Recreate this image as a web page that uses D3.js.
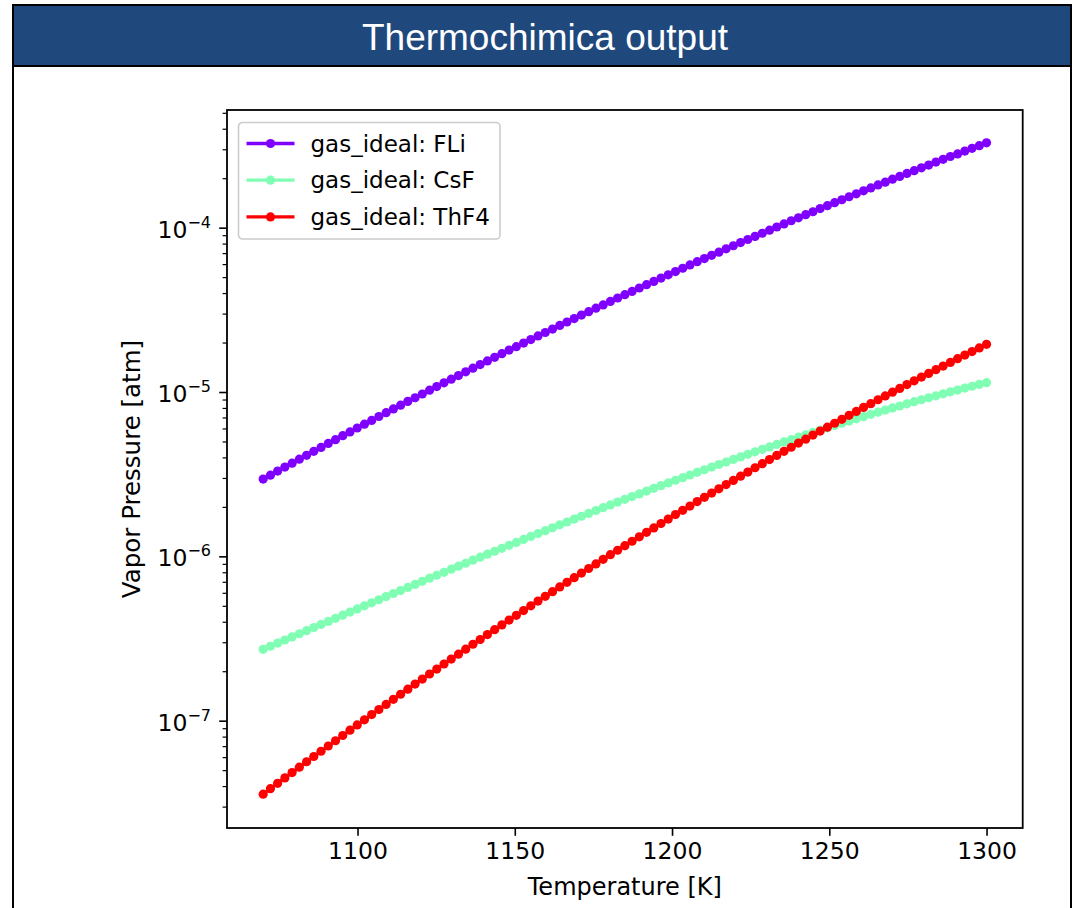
<!DOCTYPE html>
<html lang="en">
<head>
    <meta charset="UTF-8">
    <title>Thermochimica output</title>
    <script src="https://d3js.org/d3.v7.min.js"></script>
    <style>
        body { margin: 0; background: #fff; }
        svg { display: block; }
        .axis text { font-family: "DejaVu Sans", sans-serif; font-size: 23.5px; fill: #000; }
    </style>
</head>
<body>
    <div id="chart"></div>
    <script>
        // temperatures [K]
        const temperatures = [
            1070, 1072.3, 1074.6, 1076.9, 1079.2, 1081.5, 1083.8, 1086.1, 1088.4, 1090.7,
            1093, 1095.3, 1097.6, 1099.9, 1102.2, 1104.5, 1106.8, 1109.1, 1111.4, 1113.7,
            1116, 1118.3, 1120.6, 1122.9, 1125.2, 1127.5, 1129.8, 1132.1, 1134.4, 1136.7,
            1139, 1141.3, 1143.6, 1145.9, 1148.2, 1150.5, 1152.8, 1155.1, 1157.4, 1159.7,
            1162, 1164.3, 1166.6, 1168.9, 1171.2, 1173.5, 1175.8, 1178.1, 1180.4, 1182.7,
            1185, 1187.3, 1189.6, 1191.9, 1194.2, 1196.5, 1198.8, 1201.1, 1203.4, 1205.7,
            1208, 1210.3, 1212.6, 1214.9, 1217.2, 1219.5, 1221.8, 1224.1, 1226.4, 1228.7,
            1231, 1233.3, 1235.6, 1237.9, 1240.2, 1242.5, 1244.8, 1247.1, 1249.4, 1251.7,
            1254, 1256.3, 1258.6, 1260.9, 1263.2, 1265.5, 1267.8, 1270.1, 1272.4, 1274.7,
            1277, 1279.3, 1281.6, 1283.9, 1286.2, 1288.5, 1290.8, 1293.1, 1295.4, 1297.7,
            1300
        ];

        // vapour pressures, stored as log10(p / atm)
        const fliLogP = [
            -5.530, -5.506, -5.481, -5.457, -5.433, -5.409, -5.385, -5.361, -5.337, -5.313,
            -5.290, -5.266, -5.243, -5.219, -5.196, -5.173, -5.149, -5.126, -5.103, -5.080,
            -5.057, -5.035, -5.012, -4.989, -4.967, -4.944, -4.922, -4.900, -4.877, -4.855,
            -4.833, -4.811, -4.789, -4.767, -4.745, -4.724, -4.702, -4.681, -4.659, -4.638,
            -4.617, -4.595, -4.574, -4.553, -4.532, -4.511, -4.490, -4.470, -4.449, -4.428,
            -4.408, -4.388, -4.367, -4.347, -4.327, -4.307, -4.287, -4.267, -4.247, -4.227,
            -4.207, -4.188, -4.168, -4.149, -4.129, -4.110, -4.091, -4.072, -4.053, -4.034,
            -4.015, -3.996, -3.977, -3.958, -3.940, -3.921, -3.903, -3.884, -3.866, -3.848,
            -3.830, -3.812, -3.794, -3.776, -3.758, -3.740, -3.723, -3.705, -3.688, -3.670,
            -3.653, -3.636, -3.619, -3.601, -3.584, -3.567, -3.551, -3.534, -3.517, -3.501,
            -3.484
        ];
        const csfLogP = [
            -6.566, -6.547, -6.528, -6.509, -6.490, -6.471, -6.452, -6.433, -6.414, -6.396,
            -6.377, -6.358, -6.339, -6.320, -6.301, -6.283, -6.264, -6.245, -6.226, -6.208,
            -6.189, -6.171, -6.152, -6.133, -6.115, -6.097, -6.078, -6.060, -6.042, -6.023,
            -6.005, -5.987, -5.969, -5.951, -5.933, -5.915, -5.897, -5.879, -5.861, -5.844,
            -5.826, -5.808, -5.791, -5.773, -5.756, -5.739, -5.721, -5.704, -5.687, -5.670,
            -5.653, -5.636, -5.620, -5.603, -5.586, -5.570, -5.553, -5.537, -5.521, -5.505,
            -5.489, -5.473, -5.457, -5.441, -5.426, -5.410, -5.395, -5.379, -5.364, -5.349,
            -5.334, -5.319, -5.304, -5.290, -5.275, -5.261, -5.246, -5.232, -5.218, -5.204,
            -5.190, -5.177, -5.163, -5.150, -5.136, -5.123, -5.110, -5.097, -5.085, -5.072,
            -5.059, -5.047, -5.035, -5.023, -5.011, -4.999, -4.988, -4.976, -4.965, -4.954,
            -4.943
        ];
        const thf4LogP = [
            -7.447, -7.414, -7.381, -7.348, -7.316, -7.283, -7.250, -7.218, -7.186, -7.154,
            -7.122, -7.090, -7.058, -7.026, -6.995, -6.963, -6.932, -6.901, -6.870, -6.839,
            -6.808, -6.777, -6.747, -6.716, -6.686, -6.655, -6.625, -6.595, -6.565, -6.535,
            -6.506, -6.476, -6.446, -6.417, -6.388, -6.359, -6.330, -6.301, -6.272, -6.243,
            -6.215, -6.186, -6.158, -6.130, -6.102, -6.074, -6.046, -6.018, -5.990, -5.963,
            -5.935, -5.908, -5.881, -5.854, -5.827, -5.800, -5.773, -5.746, -5.720, -5.694,
            -5.667, -5.641, -5.615, -5.589, -5.563, -5.538, -5.512, -5.487, -5.461, -5.436,
            -5.411, -5.386, -5.361, -5.336, -5.311, -5.287, -5.262, -5.238, -5.214, -5.190,
            -5.166, -5.142, -5.118, -5.094, -5.071, -5.047, -5.024, -5.001, -4.978, -4.955,
            -4.932, -4.909, -4.887, -4.864, -4.842, -4.820, -4.797, -4.775, -4.754, -4.732,
            -4.710
        ];

        const seriesNames = ["gas_ideal: FLi", "gas_ideal: CsF", "gas_ideal: ThF4"];
        const seriesColors = ["#8000ff", "#80ffb4", "#ff0000"];
        const xTicks = [1100, 1150, 1200, 1250, 1300];
        const yDecades = [-7, -6, -5, -4];

        const width = 1075;
        const height = 908;
        const plot = { left: 227, right: 1022.7, top: 110, bottom: 828 };

        const svg = d3.select("#chart").append("svg")
            .attr("width", width)
            .attr("height", height);

        // banner + frame
        svg.append("rect")
            .attr("x", 13).attr("y", 5)
            .attr("width", 1058).attr("height", 61)
            .attr("fill", "#1f497d")
            .attr("stroke", "#000").attr("stroke-width", 2);
        svg.append("line")
            .attr("x1", 13).attr("x2", 13).attr("y1", 5).attr("y2", height)
            .attr("stroke", "#000").attr("stroke-width", 2);
        svg.append("line")
            .attr("x1", 1071).attr("x2", 1071).attr("y1", 5).attr("y2", height)
            .attr("stroke", "#000").attr("stroke-width", 2);
        svg.append("text")
            .attr("x", 545).attr("y", 50)
            .attr("text-anchor", "middle")
            .attr("font-family", "'Liberation Sans', Arial, sans-serif")
            .attr("font-size", 37)
            .attr("fill", "#fff")
            .text("Thermochimica output");

        const series = seriesNames.map((name, k) => ({
            name: name,
            color: seriesColors[k],
            values: [fliLogP, csfLogP, thf4LogP][k].map((v, i) => ({ t: temperatures[i], p: Math.pow(10, v) }))
        }));

        const x = d3.scaleLinear()
            .domain([1058.5, 1311.5])
            .range([plot.left, plot.right]);

        const y = d3.scaleLog()
            .domain([Math.pow(10, -7.653), Math.pow(10, -3.284)])
            .range([plot.bottom, plot.top]);

        // x axis
        const xAxis = svg.append("g")
            .attr("class", "axis")
            .attr("transform", `translate(0,${plot.bottom})`)
            .call(d3.axisBottom(x).tickValues(xTicks).tickFormat(d3.format("d")).tickSize(7.8).tickPadding(7));
        xAxis.select(".domain").remove();
        xAxis.selectAll(".tick line").attr("stroke-width", 1.6);

        // y axis minor ticks (2..9 x 10^n)
        const yMinor = svg.append("g")
            .attr("class", "axis")
            .attr("transform", `translate(${plot.left},0)`)
            .call(d3.axisLeft(y).tickValues(y.ticks().filter(v => {
                const m = Math.round(v / Math.pow(10, Math.floor(Math.log10(v) + 1e-9)));
                return m !== 1;
            })).tickFormat("").tickSize(4.4));
        yMinor.select(".domain").remove();
        yMinor.selectAll(".tick line").attr("stroke-width", 1.2);

        // y axis major ticks with 10^n labels
        const yMajor = svg.append("g")
            .attr("class", "axis")
            .attr("transform", `translate(${plot.left},0)`)
            .call(d3.axisLeft(y).tickValues(yDecades.map(e => Math.pow(10, e))).tickFormat("").tickSize(7.8));
        yMajor.select(".domain").remove();
        yMajor.selectAll(".tick line").attr("stroke-width", 1.6);
        yMajor.selectAll(".tick").each(function(d, i) {
            const t = d3.select(this).append("text")
                .attr("x", -16).attr("y", 9.5)
                .attr("text-anchor", "end")
                .attr("fill", "#000");
            t.append("tspan").text("10");
            t.append("tspan").attr("dy", -10).attr("font-size", 16).text("\u2212" + Math.abs(yDecades[i]));
        });

        // frame of the axes
        svg.append("rect")
            .attr("x", plot.left).attr("y", plot.top)
            .attr("width", plot.right - plot.left).attr("height", plot.bottom - plot.top)
            .attr("fill", "none").attr("stroke", "#000").attr("stroke-width", 1.8);

        // axis titles
        svg.append("text")
            .attr("x", (plot.left + plot.right) / 2).attr("y", 895)
            .attr("text-anchor", "middle")
            .style("font-family", "'DejaVu Sans', sans-serif").style("font-size", "24px")
            .text("Temperature [K]");
        svg.append("text")
            .attr("transform", `translate(140,${(plot.top + plot.bottom) / 2}) rotate(-90)`)
            .attr("text-anchor", "middle")
            .style("font-family", "'DejaVu Sans', sans-serif").style("font-size", "24.5px")
            .text("Vapor Pressure [atm]");

        // lines and markers
        const line = d3.line().x(d => x(d.t)).y(d => y(d.p));
        const g = svg.append("g");
        series.forEach(s => {
            g.append("path")
                .datum(s.values)
                .attr("d", line)
                .attr("fill", "none")
                .attr("stroke", s.color)
                .attr("stroke-width", 3.3);
            g.selectAll(null)
                .data(s.values)
                .enter().append("circle")
                .attr("cx", d => x(d.t))
                .attr("cy", d => y(d.p))
                .attr("r", 4.6)
                .attr("fill", s.color);
        });

        // legend
        const legend = svg.append("g").attr("transform", "translate(238.5,122.5)");
        legend.append("rect")
            .attr("width", 261.5).attr("height", 116.5)
            .attr("rx", 4)
            .attr("fill", "#fff").attr("fill-opacity", 0.8)
            .attr("stroke", "#cccccc").attr("stroke-width", 1.6);
        series.forEach((s, k) => {
            const row = legend.append("g").attr("transform", `translate(0,${21 + k * 36.7})`);
            row.append("line")
                .attr("x1", 8).attr("x2", 56)
                .attr("stroke", s.color).attr("stroke-width", 3.3);
            row.append("circle").attr("cx", 32).attr("r", 4.6).attr("fill", s.color);
            row.append("text")
                .attr("x", 72).attr("y", 8)
                .style("font-family", "'DejaVu Sans', sans-serif").style("font-size", "23px")
                .text(s.name);
        });
    </script>
</body>
</html>
